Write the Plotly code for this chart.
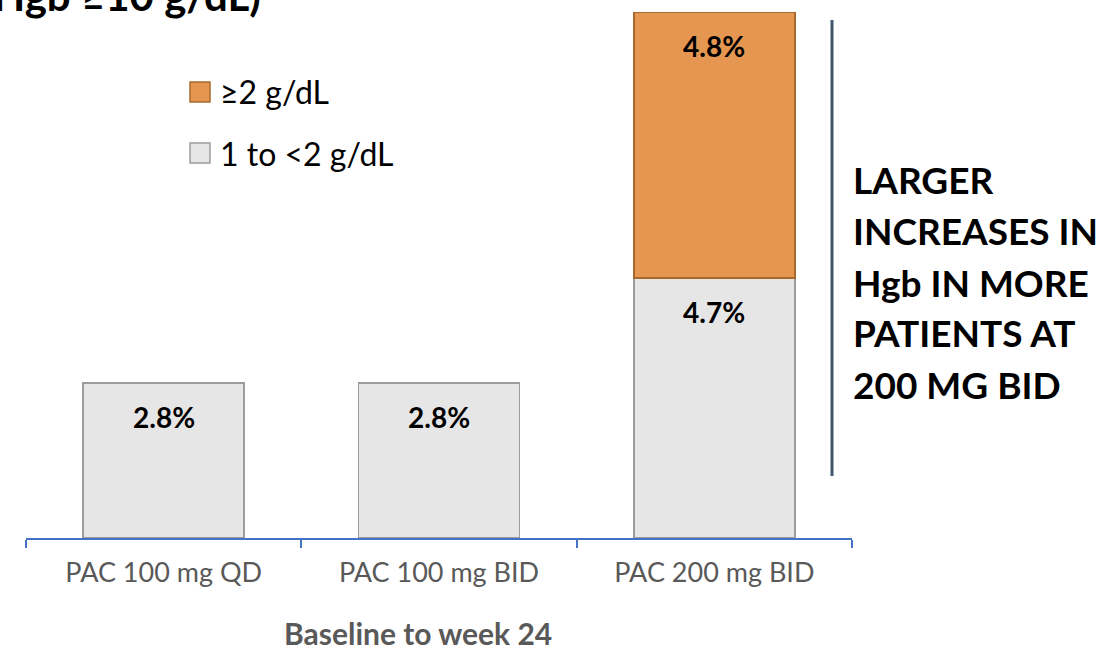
import plotly.graph_objects as go

# Share of patients by size of Hgb increase, baseline to week 24
categories = ["PAC 100 mg QD", "PAC 100 mg BID", "PAC 200 mg BID"]
increase_1_to_2 = [2.8, 2.8, 4.7]
increase_ge_2 = [None, None, 4.8]
series_names = ["1 to <2 g/dL", "≥2 g/dL"]
callout_lines = ["LARGER", "INCREASES IN", "Hgb IN MORE", "PATIENTS AT", "200 MG BID"]

FONT = "Lato"
GRAY_FILL = "#E7E6E6"
GRAY_EDGE = "#9C9C9C"
ORANGE_FILL = "#E59650"
ORANGE_EDGE = "#A8692F"
AXIS_BLUE = "#4472C4"

# Plot area geometry in pixels (used for placing paper-anchored items)
W, H = 1117, 651
L, R, T, B = 26, 265, 12, 113
PW, PH = W - L - R, H - T - B


def px(x):
    return (x - L) / PW


def py(y):
    return (H - B - y) / PH


fig = go.Figure()
fig.add_trace(go.Bar(
    x=categories, y=increase_1_to_2, name=series_names[0],
    marker=dict(color=GRAY_FILL, line=dict(color=GRAY_EDGE, width=1.5)),
))
fig.add_trace(go.Bar(
    x=categories, y=increase_ge_2, name=series_names[1],
    marker=dict(color=ORANGE_FILL, line=dict(color=ORANGE_EDGE, width=1.5)),
))

annotations = []
# Value labels placed just inside the top of each segment
for i, cat in enumerate(categories):
    base = 0
    for vals in (increase_1_to_2, increase_ge_2):
        v = vals[i]
        if v:
            annotations.append(dict(
                x=cat, y=base + v, xref="x", yref="y", yshift=-34,
                text=f"<b>{v:.1f}%</b>", showarrow=False,
                font=dict(family=FONT, size=28, color="#000000"),
            ))
            base += v

# Partial heading at the top-left
annotations.append(dict(
    x=px(263), y=py(-5), xref="paper", yref="paper", xanchor="right", yanchor="middle",
    text="<b>Hgb ≥10 g/dL)</b>", showarrow=False,
    font=dict(family=FONT, size=42, color="#000000"),
))

# Callout text on the right, one line per row
for k, line in enumerate(callout_lines):
    annotations.append(dict(
        x=px(851), y=py(180 + 51 * k), xref="paper", yref="paper",
        xanchor="left", yanchor="middle",
        text=f"<b>{line}</b>", showarrow=False,
        font=dict(family=FONT, size=37, color="#000000"),
    ))

# Axis title
annotations.append(dict(
    x=px(418), y=py(633), xref="paper", yref="paper", xanchor="center", yanchor="middle",
    text="<b>Baseline to week 24</b>", showarrow=False,
    font=dict(family=FONT, size=30, color="#595959"),
))

# Legend: swatch + label for each series, stacked top segment first
shapes = []
legend_rows = [(series_names[1], ORANGE_FILL, ORANGE_EDGE, 92),
               (series_names[0], GRAY_FILL, GRAY_EDGE, 153)]
for name, fill, edge, cy in legend_rows:
    shapes.append(dict(
        type="rect", xref="paper", yref="paper",
        x0=px(190), x1=px(210), y0=py(cy + 10), y1=py(cy - 10),
        fillcolor=fill, line=dict(color=edge, width=1.5),
    ))
    annotations.append(dict(
        x=px(218), y=py(cy), xref="paper", yref="paper", xanchor="left", yanchor="middle",
        text=name, showarrow=False,
        font=dict(family=FONT, size=32, color="#000000"),
    ))

# Vertical divider beside the callout
shapes.append(dict(
    type="line", xref="paper", yref="paper",
    x0=px(832), x1=px(832), y0=py(476), y1=py(20),
    line=dict(color="#44546A", width=3),
))

fig.update_layout(
    width=W, height=H,
    margin=dict(l=L, r=R, t=T, b=B),
    paper_bgcolor="white", plot_bgcolor="white",
    barmode="stack", bargap=0.415,
    showlegend=False,
    annotations=annotations,
    shapes=shapes,
    xaxis=dict(
        showline=True, linecolor=AXIS_BLUE, linewidth=1.5,
        ticks="outside", tickson="boundaries", ticklen=8, tickcolor=AXIS_BLUE, tickwidth=1.5,
        tickfont=dict(family=FONT, size=27, color="#595959"),
        range=[-0.5, 2.5], ticklabelstandoff=10,
    ),
    yaxis=dict(range=[0, 9.5], visible=False, showgrid=False, zeroline=False),
)

fig.write_html("out.html")
